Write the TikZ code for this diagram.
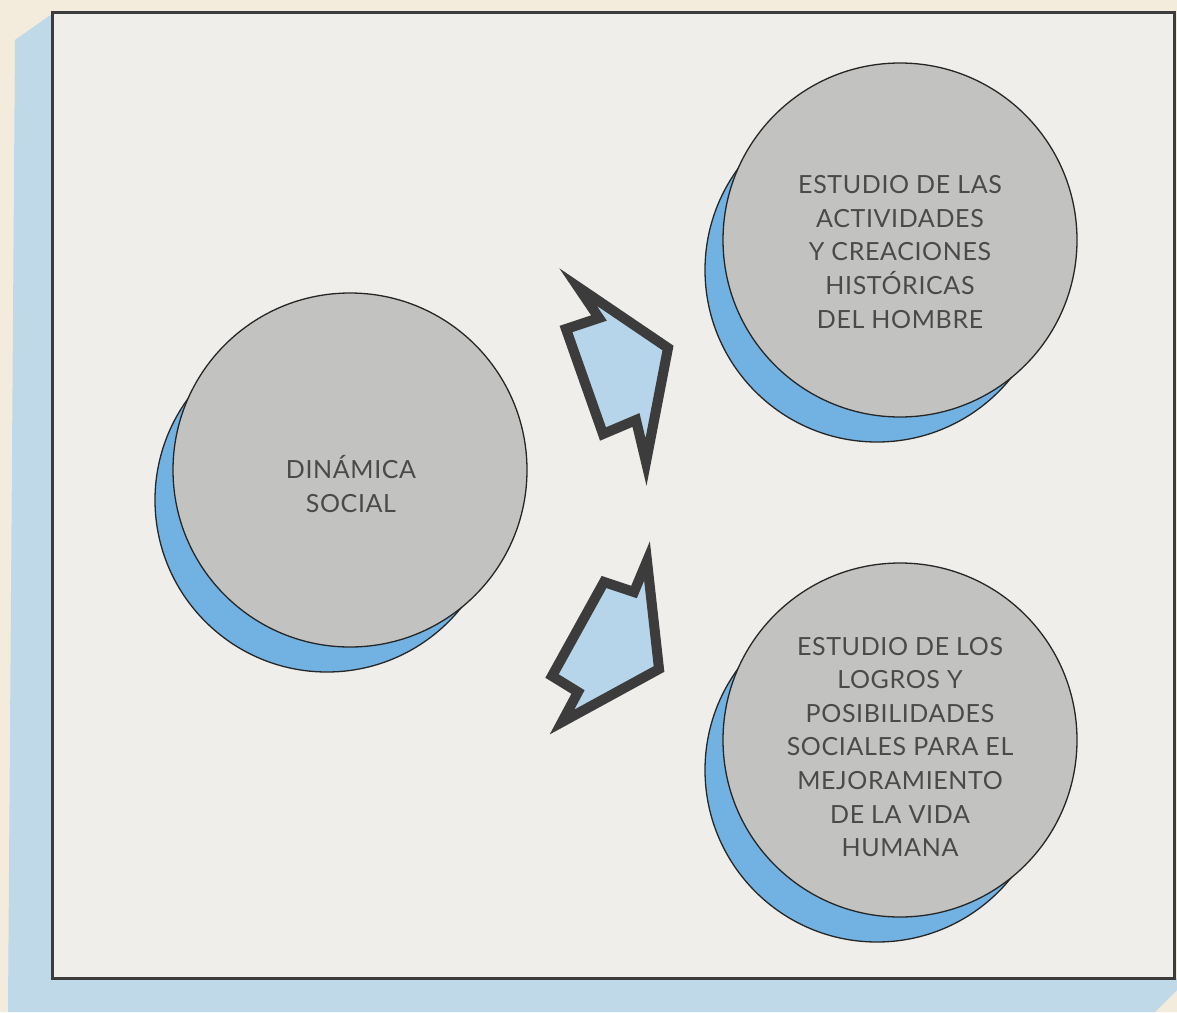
\documentclass[tikz,border=0pt]{standalone}
\usepackage{fontspec}
\setmainfont{Lato}[LetterSpace=2.5]
\definecolor{cream}{HTML}{F3ECDC}
\definecolor{band}{HTML}{BFD9E9}
\definecolor{inner}{HTML}{EFEEEA}
\definecolor{framecol}{HTML}{3C3C3C}
\definecolor{bubblegray}{HTML}{C2C2C1}
\definecolor{crescent}{HTML}{72B2E2}
\definecolor{arrowfill}{HTML}{B7D5EA}
\definecolor{txt}{HTML}{4A4A4A}
\tikzset{
  bubble/.style={circle, draw=black!85, line width=1.3pt, fill=bubblegray, minimum size=354pt, inner sep=0pt},
  shade/.style={circle, draw=black!85, line width=1.3pt, fill=crescent, minimum size=344pt, inner sep=0pt},
  label text/.style={text=txt, align=center, font=\fontsize{25}{33.6}\selectfont},
  bigarrow/.style={fill=arrowfill, draw=framecol, line width=10pt, line join=miter, miter limit=20}
}
\begin{document}
\begin{tikzpicture}[x=1pt,y=-1pt]
\useasboundingbox (0,0) rectangle (1177,1012);
\fill[cream] (0,0) rectangle (1177,1012);
\fill[band] (15,40) -- (52,14) -- (52,978) -- (1177,978) -- (1177,990) -- (1155,1012) -- (8,1012) -- cycle;
\filldraw[fill=inner, draw=framecol, line width=3pt] (52,12) rectangle (1174,978);

% circles
\node[shade] (s1) at (327,500) {};
\node[bubble] (c1) at (350,470) {};
\node[label text] (t1) at (351,484) {DINÁMICA\\SOCIAL};

\node[shade] (s2) at (877,270) {};
\node[bubble] (c2) at (900,240) {};
\node[label text] (t2) at (900,252) {ESTUDIO DE LAS\\ACTIVIDADES\\Y CREACIONES\\HISTÓRICAS\\DEL HOMBRE};

\node[shade] (s3) at (877,770) {};
\node[bubble] (c3) at (900,740) {};
\node[label text] (t3) at (900,747) {ESTUDIO DE LOS\\LOGROS Y\\POSIBILIDADES\\SOCIALES PARA EL\\MEJORAMIENTO\\DE LA VIDA\\HUMANA};

% arrows
\draw[bigarrow] (578,287) -- (668,348) -- (646,462) -- (636,420) -- (603,434) -- (566,329) -- (599,318) -- cycle;
\draw[bigarrow] (647,561) -- (659,669) -- (562,722) -- (578,692) -- (552,676) -- (604,582) -- (634,592) -- cycle;
\end{tikzpicture}
\end{document}
